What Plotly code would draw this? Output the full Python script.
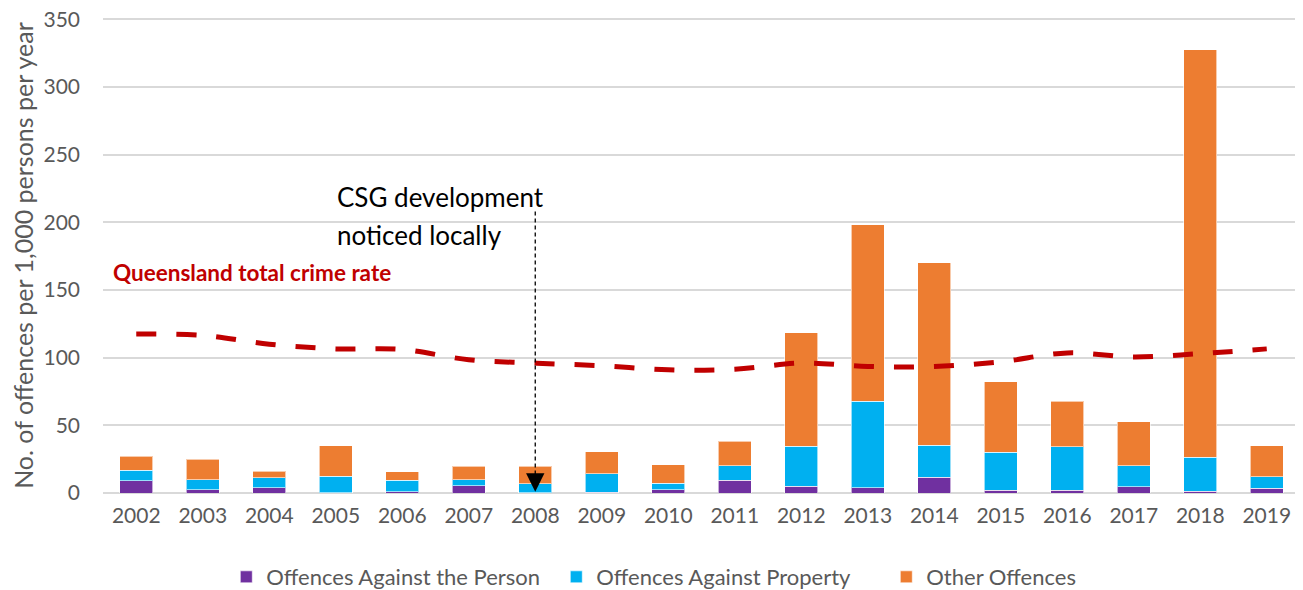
import plotly.graph_objects as go

# Data
years = [str(y) for y in range(2002, 2020)]
person = [8.9, 2.5, 4.0, 0.3, 1.0, 5.2, 0.3, 0.5, 2.5, 9.4, 5.0, 3.7, 11.7, 2.2, 2.2, 4.7, 1.2, 3.5]
property_totals = [16.9, 9.9, 11.4, 12.4, 9.4, 9.7, 6.7, 14.3, 7.2, 20.3, 34.7, 67.8, 35.4, 30.0, 34.0, 20.0, 26.5, 12.1]
all_totals = [27.0, 25.0, 16.1, 34.9, 15.8, 19.6, 19.6, 30.5, 20.8, 38.4, 118.6, 198.3, 170.2, 82.2, 67.8, 52.7, 327.6, 34.9]
qld_rate = [117.5, 116.5, 110.0, 106.5, 106.0, 98.5, 96.0, 94.0, 91.0, 91.5, 96.0, 93.5, 93.5, 97.0, 103.5, 100.5, 103.0, 106.5]
csg_year = "2008"

# stacked segments
prop = [round(p - a, 1) for p, a in zip(property_totals, person)]
other = [round(t - p, 1) for t, p in zip(all_totals, property_totals)]

FONT = "Lato"
GREY = "#595959"

fig = go.Figure()
for name, vals, col in [("Offences Against the Person", person, "#7030A0"),
                        ("Offences Against Property", prop, "#00B0F0"),
                        ("Other Offences", other, "#ED7D31")]:
    fig.add_trace(go.Bar(x=years, y=vals, name=name, marker_color=col,
                         marker_line=dict(color="rgba(255,255,255,0.6)", width=1)))

fig.add_trace(go.Scatter(x=years, y=qld_rate, mode="lines", showlegend=False,
                         line=dict(color="#C00000", width=5, shape="spline", dash="20px,20px")))

# dashed marker line for CSG development (category axis -> use index)
csg_idx = years.index(csg_year)
fig.add_shape(type="line", x0=csg_idx, x1=csg_idx, y0=208, y1=10, xref="x", yref="y",
              line=dict(color="black", width=1.3, dash="4px,3px"))
fig.add_annotation(x=csg_idx, y=1, ax=0, ay=-16, text="", showarrow=True,
                   arrowhead=2, arrowsize=2.3, arrowwidth=1.6, arrowcolor="black")

fig.add_annotation(x=0.1937, y=219, xref="paper", yref="y", xanchor="left", showarrow=False,
                   text="CSG development", font=dict(family=FONT, size=26, color="black"))
fig.add_annotation(x=0.1937, y=191, xref="paper", yref="y", xanchor="left", showarrow=False,
                   text="noticed locally", font=dict(family=FONT, size=26, color="black"))
fig.add_annotation(x=0.0071, y=163, xref="paper", yref="y", xanchor="left", showarrow=False,
                   text="<b>Queensland total crime rate</b>", font=dict(family=FONT, size=22.5, color="#C00000"))

# page body has an 8px margin, so the figure is sized to fit the window
fig.update_layout(
    barmode="stack", bargap=0.5,
    width=1295, height=582,
    margin=dict(l=95, r=3, t=10, b=97),
    plot_bgcolor="white", paper_bgcolor="white",
    font=dict(family=FONT, size=21, color=GREY),
    legend=dict(orientation="h", x=0.103, xanchor="left", xref="paper",
                y=0.0223, yanchor="middle", yref="container",
                font=dict(size=22, color=GREY), itemwidth=30, traceorder="normal",
                entrywidth=285, entrywidthmode="pixels"),
    xaxis=dict(type="category", showgrid=False, tickfont=dict(size=21, color=GREY), ticks="",
               ticklabelstandoff=8, automargin=False),
    yaxis=dict(range=[0, 351], dtick=50, gridcolor="#D9D9D9", gridwidth=1.5,
               zeroline=True, zerolinecolor="#D9D9D9", zerolinewidth=2,
               tickfont=dict(size=21, color=GREY), ticks="", ticklabelstandoff=22,
               ticklabeloverflow="allow", automargin=False,
               title=dict(text="No. of offences per 1,000 persons per year",
                          font=dict(size=25, color=GREY), standoff=6)),
)

fig.write_html("out.html")
